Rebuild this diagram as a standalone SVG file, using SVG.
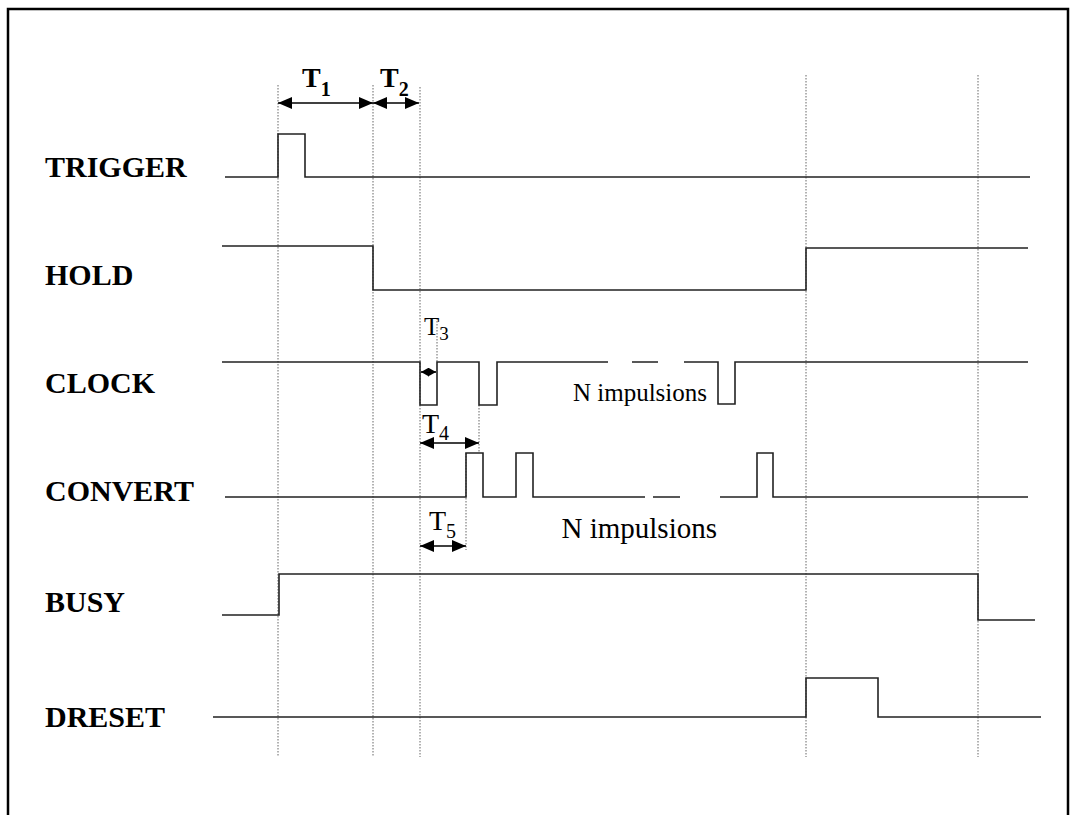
<svg xmlns="http://www.w3.org/2000/svg" width="1076" height="815" viewBox="0 0 1076 815">
<style>
.frame{fill:none;stroke:#000;stroke-width:2.5}
.wave{fill:none;stroke:#222;stroke-width:1.6}
.guide{fill:none;stroke:#666;stroke-width:1;stroke-dasharray:1.5 1.5}
.dim{fill:none;stroke:#000;stroke-width:1.6}
.lbl{font-family:"Liberation Serif","Times New Roman",serif;font-weight:bold;font-size:30px;fill:#000}
.t{font-family:"Liberation Serif","Times New Roman",serif;font-size:28px;fill:#000}
.tb{font-family:"Liberation Serif","Times New Roman",serif;font-size:28px;font-weight:bold;fill:#000}
.sub{font-size:20px}
</style>
<defs>
<marker id="ah" markerUnits="userSpaceOnUse" markerWidth="14" markerHeight="12" refX="14" refY="6" orient="auto-start-reverse"><path d="M0,0 L14,6 L0,12 Z" fill="#000"/></marker>
<marker id="ahs" markerUnits="userSpaceOnUse" markerWidth="8" markerHeight="9" refX="8" refY="4.5" orient="auto-start-reverse"><path d="M0,0 L8,4.5 L0,9 Z" fill="#000"/></marker>
</defs>
<rect width="1076" height="815" fill="#fff"/>
<path class="frame" d="M8,815 L8,9 L1068,9 L1068,815"/>
<g id="guides">
<path class="guide" d="M278,85 V757 M373,85 V757 M420,87 V757 M806,75 V757 M978,75 V757"/>
<path class="guide" d="M437,318 V362 M479,405 V452 M466,453 V550"/>
</g>
<g id="trigger">
<text class="lbl" x="45" y="177">TRIGGER</text>
<path class="wave" d="M225,177 H278 V134 H305 V177 H1030"/>
</g>
<g id="hold">
<text class="lbl" x="45" y="285">HOLD</text>
<path class="wave" d="M222,246 H373 V290 H806 V248 H1028"/>
</g>
<g id="clock">
<text class="lbl" x="45" y="393">CLOCK</text>
<path class="wave" d="M222,362 H420 V405 H437 V362 H479 V405 H497 V362 H608 M632,362 H658 M684,362 H718 V404 H735 V362 H1028"/>
<text class="t" x="707" y="401" text-anchor="end" style="font-size:25px">N impulsions</text>
</g>
<g id="convert">
<text class="lbl" x="45" y="501">CONVERT</text>
<path class="wave" d="M225,497 H466 V453 H483 V497 H516 V453 H533 V497 H645 M653,497 H680 M720,497 H757 V453 H773 V497 H1028"/>
<text class="t" x="717" y="538" text-anchor="end" style="font-size:29px">N impulsions</text>
</g>
<g id="busy">
<text class="lbl" x="45" y="612">BUSY</text>
<path class="wave" d="M222,615 H279 V574 H978 V620 H1035"/>
</g>
<g id="dreset">
<text class="lbl" x="45" y="727">DRESET</text>
<path class="wave" d="M213,717 H806 V678 H878 V717 H1041"/>
</g>
<g id="connectors">
<line class="dim" x1="278" y1="103" x2="373" y2="103" marker-start="url(#ah)" marker-end="url(#ah)"/>
<line class="dim" x1="373" y1="103" x2="419" y2="103" marker-start="url(#ah)" marker-end="url(#ah)"/>
<line class="dim" x1="421" y1="372" x2="436" y2="372" marker-start="url(#ahs)" marker-end="url(#ahs)"/>
<line class="dim" x1="420" y1="443" x2="479" y2="443" marker-start="url(#ah)" marker-end="url(#ah)"/>
<line class="dim" x1="420" y1="546" x2="466" y2="546" marker-start="url(#ah)" marker-end="url(#ah)"/>
</g>
<g id="timing-labels">
<text class="tb" x="302" y="87">T<tspan class="sub" dy="9">1</tspan></text>
<text class="tb" x="380" y="87">T<tspan class="sub" dy="9">2</tspan></text>
<text class="t" x="424" y="335" style="font-size:25px">T<tspan class="sub" dy="5" style="font-size:19px">3</tspan></text>
<text class="t" x="422" y="433">T<tspan class="sub" dy="7">4</tspan></text>
<text class="t" x="429" y="530">T<tspan class="sub" dy="8">5</tspan></text>
</g>
</svg>
